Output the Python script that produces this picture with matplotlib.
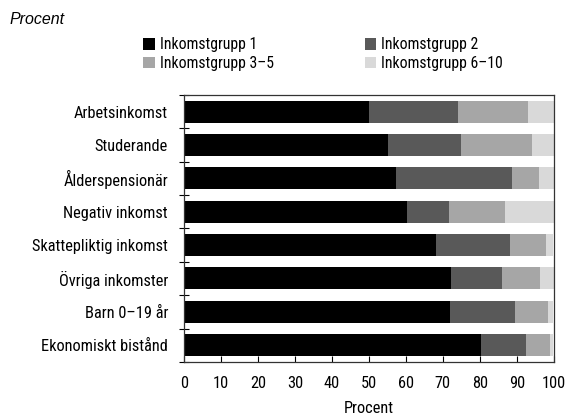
import matplotlib.pyplot as plt
import numpy as np
from matplotlib import font_manager
from matplotlib.ticker import FixedLocator

# pick a narrow face if one is installed, otherwise plain Liberation Sans
installed = {f.name for f in font_manager.fontManager.ttflist}
narrow = [n for n in ["Roboto Condensed", "Liberation Sans Narrow", "DejaVu Sans Condensed"]
          if n in installed]
if narrow:
    base_font, fs, lfs = narrow[0], 11.8, 11.3
else:
    base_font, fs, lfs = "Liberation Sans", 10.5, 10.0
plt.rcParams['font.family'] = [base_font, 'DejaVu Sans']

categories = ["Arbetsinkomst", "Studerande", "Ålderspensionär", "Negativ inkomst",
              "Skattepliktig inkomst", "Övriga inkomster", "Barn 0–19 år",
              "Ekonomiskt bistånd"]
grupp1 = [50.0, 55.1, 57.3, 60.3, 68.1, 72.2, 71.9, 80.3]
grupp2 = [24.0, 19.9, 31.3, 11.3, 20.0, 13.9, 17.6, 12.3]
grupp3_5 = [19.0, 19.0, 7.4, 15.2, 9.9, 10.1, 8.8, 6.3]
grupp6_10 = [7.0, 6.0, 4.0, 13.2, 1.9, 3.8, 1.5, 0.9]

series = [grupp1, grupp2, grupp3_5, grupp6_10]
labels = ["Inkomstgrupp 1", "Inkomstgrupp 2", "Inkomstgrupp 3–5", "Inkomstgrupp 6–10"]
colors = ["#000000", "#595959", "#a6a6a6", "#d9d9d9"]

fig = plt.figure(figsize=(5.68, 4.16), dpi=100)
ax = fig.add_axes([0.324, 0.130, 0.651, 0.642])

y = np.arange(len(categories))
left = np.zeros(len(categories))
handles = []
for vals, lab, col in zip(series, labels, colors):
    h = ax.barh(y, vals, left=left, height=0.66, color=col, label=lab, edgecolor='none')
    handles.append(h)
    left += np.array(vals)

ax.set_ylim(7.5, -0.5)
ax.set_xlim(0, 100)
ax.set_yticks(y)
ax.set_yticklabels(categories, fontsize=fs)
ax.tick_params(axis='y', which='major', length=0, pad=11.5)
ax.yaxis.set_minor_locator(FixedLocator(np.arange(-0.5, 8, 1.0)))
ax.tick_params(axis='y', which='minor', direction='inout', length=7, width=0.8)

ax.set_xticks(np.arange(0, 101, 10))
ax.tick_params(axis='x', direction='in', length=4, width=0.8, labelsize=fs, pad=10)
ax.set_xlabel("Procent", fontsize=fs, labelpad=7)

for s in ax.spines.values():
    s.set_color('#333333')
    s.set_linewidth(0.9)

fig.text(0.016, 0.952, "Procent", fontsize=11.5, style='italic', va='center',
         family=['Liberation Sans', 'DejaVu Sans'])

order = [0, 2, 1, 3]
fig.legend([handles[i] for i in order], [labels[i] for i in order],
           loc='upper left', bbox_to_anchor=(0.252, 0.91), ncol=2,
           frameon=False, fontsize=lfs, handlelength=0.75, handleheight=0.75,
           handletextpad=0.3, columnspacing=5.8, labelspacing=0.22,
           borderaxespad=0, borderpad=0)

fig.savefig("out.png", dpi=100)
